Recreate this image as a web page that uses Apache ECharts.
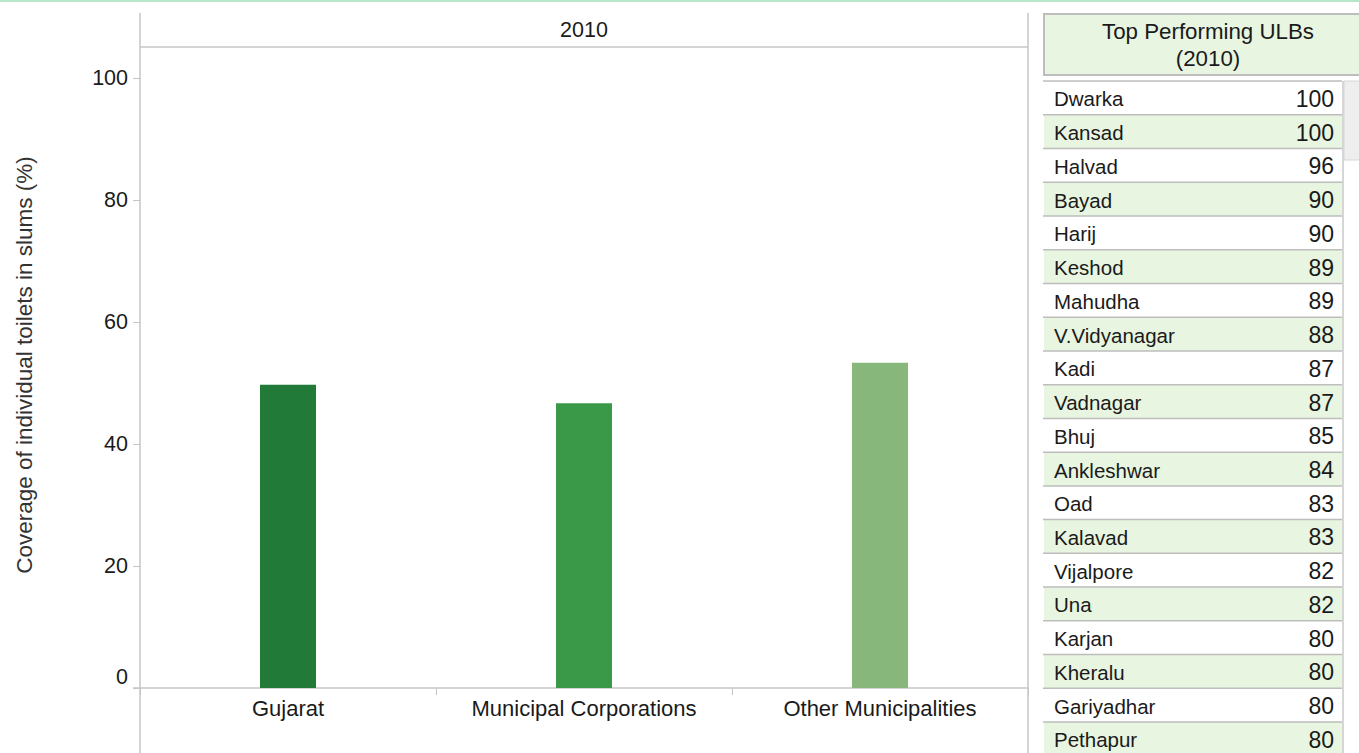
<!DOCTYPE html>
<html><head><meta charset="utf-8">
<script src="https://cdn.jsdelivr.net/npm/echarts@6/dist/echarts.min.js"></script>
<style>html,body{margin:0;padding:0;background:#fff;overflow:hidden}#c{width:1359px;height:753px}</style>
</head><body><div id="c"></div>
<script>
// ---- data ----
const categories = ['Gujarat', 'Municipal Corporations', 'Other Municipalities'];
const coverage = [49.7, 46.7, 53.3];
const barColors = ['#217a37', '#3a9948', '#88b77b'];
const facetLabel = '2010';
const yAxisTitle = 'Coverage of individual toilets in slums (%)';
const panelTitle = ['Top Performing ULBs', '(2010)'];
const ulbNames = ['Dwarka', 'Kansad', 'Halvad', 'Bayad', 'Harij', 'Keshod', 'Mahudha', 'V.Vidyanagar', 'Kadi', 'Vadnagar',
  'Bhuj', 'Ankleshwar', 'Oad', 'Kalavad', 'Vijalpore', 'Una', 'Karjan', 'Kheralu', 'Gariyadhar', 'Pethapur'];
const ulbValues = [100, 100, 96, 90, 90, 89, 89, 88, 87, 87, 85, 84, 83, 83, 82, 82, 80, 80, 80, 80];

// ---- layout ----
const W = 1359, H = 753;
const plotL = 140, plotR = 1028, plotTop = 78, plotBottom = 688;
const FONT = '"Liberation Sans", Arial, sans-serif';
const frameColor = '#c6c6c6';
const textColor = '#1a1a1a';

const graphics = [];
graphics.push({ type: 'rect', shape: { x: 0, y: 0, width: W, height: 2 }, style: { fill: '#b9e5c9' }, silent: true });
graphics.push({ type: 'line', shape: { x1: plotL, y1: 13, x2: plotL, y2: H }, style: { stroke: frameColor, lineWidth: 1.5 }, silent: true });
graphics.push({ type: 'line', shape: { x1: plotR, y1: 13, x2: plotR, y2: H }, style: { stroke: frameColor, lineWidth: 1.5 }, silent: true });
graphics.push({ type: 'line', shape: { x1: plotL, y1: 47, x2: plotR, y2: 47 }, style: { stroke: frameColor, lineWidth: 1.5 }, silent: true });
graphics.push({ type: 'line', shape: { x1: plotL - 7, y1: plotBottom, x2: plotL, y2: plotBottom }, style: { stroke: frameColor, lineWidth: 1.5 }, silent: true });
graphics.push({ type: 'text', x: (plotL + plotR) / 2, y: 30, style: { text: facetLabel, font: '21.5px ' + FONT, fill: textColor, textAlign: 'center', textVerticalAlign: 'middle' }, silent: true });
graphics.push({ type: 'text', x: 24, y: 365, rotation: Math.PI / 2, style: { text: yAxisTitle, font: '22.5px ' + FONT, fill: '#333', textAlign: 'center', textVerticalAlign: 'middle' }, silent: true });

// side table
const tX = 1044, tRight = 1342, hdrTop = 14, hdrH = 61;
graphics.push({ type: 'rect', shape: { x: tX, y: hdrTop, width: W - tX + 10, height: hdrH }, style: { fill: '#e8f5e1', stroke: '#bdbdbd', lineWidth: 2 }, silent: true });
graphics.push({ type: 'text', x: 1208, y: 31, style: { text: panelTitle[0], font: '22.3px ' + FONT, fill: textColor, textAlign: 'center', textVerticalAlign: 'middle' }, silent: true });
graphics.push({ type: 'text', x: 1208, y: 58, style: { text: panelTitle[1], font: '22.3px ' + FONT, fill: textColor, textAlign: 'center', textVerticalAlign: 'middle' }, silent: true });
const rowTop = 81, rowH = 33.74;
ulbNames.forEach((name, i) => {
  const y = rowTop + i * rowH;
  graphics.push({ type: 'rect', shape: { x: tX, y: y, width: tRight - tX, height: rowH }, style: { fill: i % 2 ? '#e8f5e1' : '#ffffff' }, silent: true });
  graphics.push({ type: 'line', shape: { x1: tX - 1, y1: y, x2: tRight, y2: y }, style: { stroke: '#bdbdbd', lineWidth: 1.5 }, silent: true });
  graphics.push({ type: 'text', x: 1054, y: y + rowH / 2 + 1, style: { text: name, font: '20.5px ' + FONT, fill: textColor, textAlign: 'left', textVerticalAlign: 'middle' }, silent: true });
  graphics.push({ type: 'text', x: 1334, y: y + rowH / 2 + 1, style: { text: String(ulbValues[i]), font: '23px ' + FONT, fill: textColor, textAlign: 'right', textVerticalAlign: 'middle' }, silent: true });
});
// scrollbar
graphics.push({ type: 'line', shape: { x1: 1343, y1: rowTop, x2: 1343, y2: H }, style: { stroke: '#c8c8c8', lineWidth: 1.5 }, silent: true });
graphics.push({ type: 'rect', shape: { x: 1344, y: rowTop, width: 16, height: 79 }, style: { fill: '#eeeeee', stroke: '#d6d6d6', lineWidth: 1 }, silent: true });

const chart = echarts.init(document.getElementById('c'), null, { renderer: 'svg', width: W, height: H });
chart.setOption({
  animation: false,
  backgroundColor: '#fff',
  grid: { left: plotL, right: W - plotR, top: plotTop, bottom: H - plotBottom, containLabel: false },
  xAxis: {
    type: 'category', data: categories,
    axisLine: { show: true, lineStyle: { color: frameColor, width: 1.5 } },
    axisTick: { show: true, length: 7, lineStyle: { color: frameColor } },
    axisLabel: { color: textColor, fontSize: 22, fontFamily: FONT, margin: 9 },
    splitLine: { show: false }
  },
  yAxis: {
    type: 'value', min: 0, max: 100, interval: 20,
    axisLine: { show: false },
    axisTick: { show: true, length: 7, lineStyle: { color: frameColor } },
    axisLabel: {
      color: textColor, fontSize: 21.5, fontFamily: FONT, margin: 12,
      formatter: v => v === 0 ? '{z|0}' : String(v),
      rich: { z: { color: textColor, fontSize: 21.5, fontFamily: FONT, padding: [0, 0, 22, 0] } }
    },
    splitLine: { show: false }
  },
  series: [{
    type: 'bar', barWidth: 56,
    data: coverage.map((v, i) => ({ value: v, itemStyle: { color: barColors[i] } }))
  }],
  graphic: graphics
});
</script></body></html>
